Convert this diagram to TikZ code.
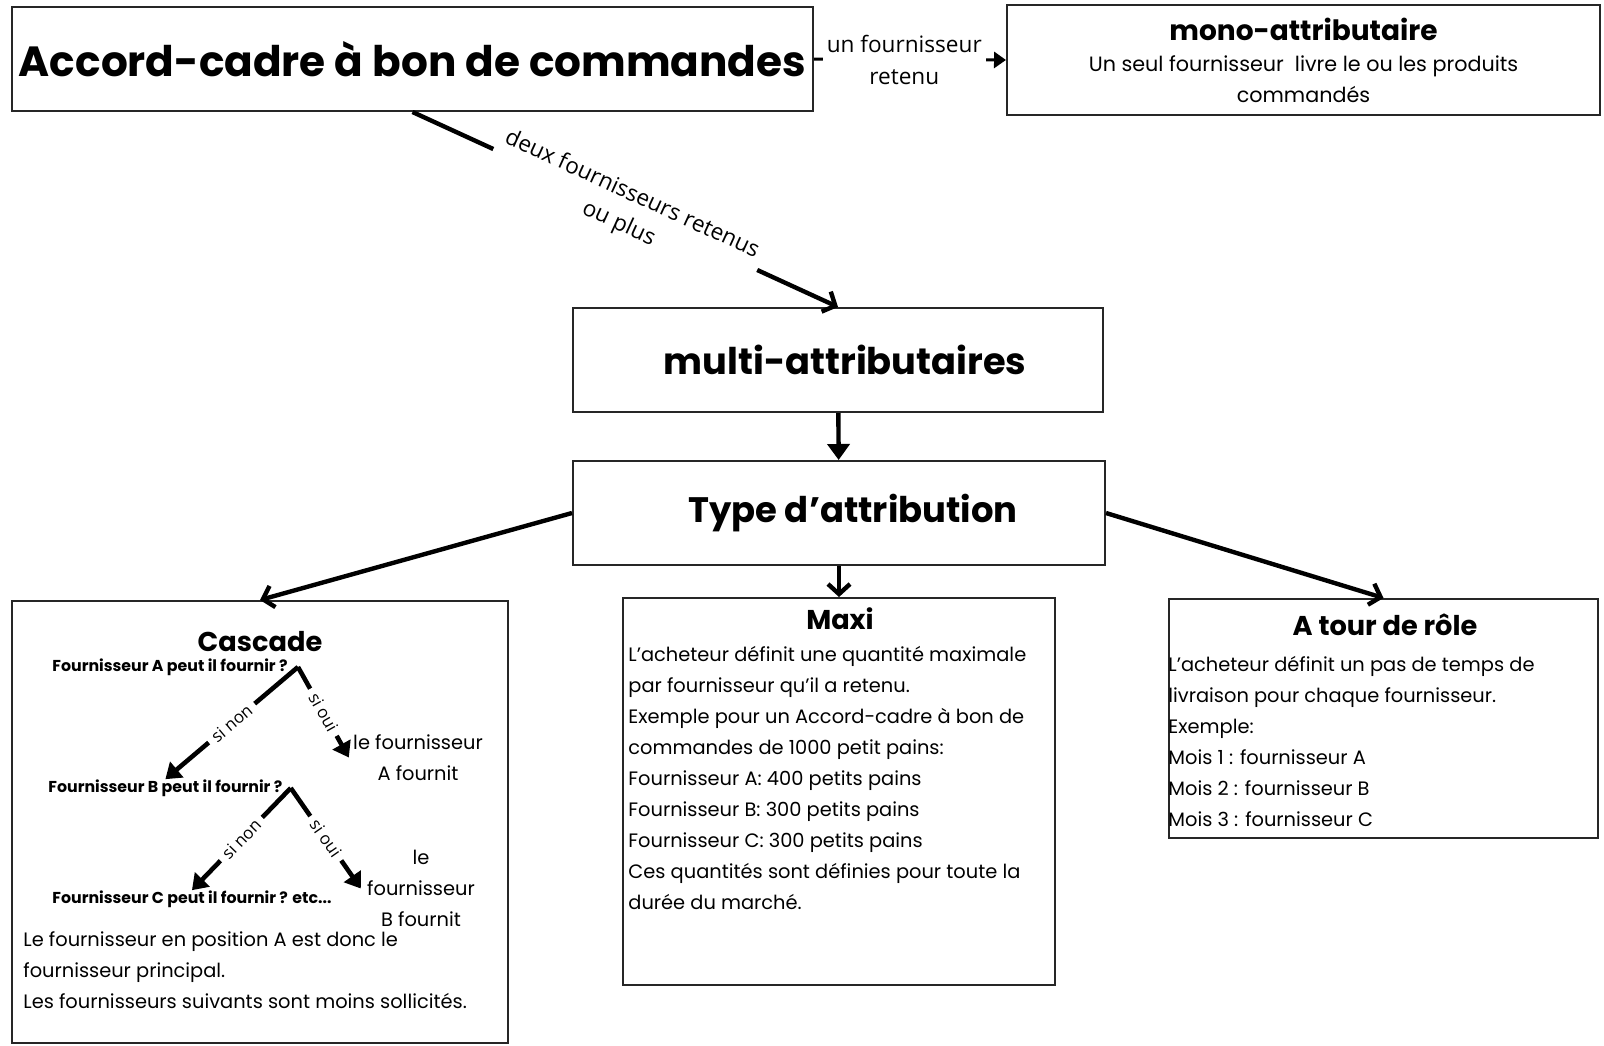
\documentclass[tikz,border=0pt]{standalone}
\usepackage{fontspec}
\setmainfont{Poppins}
\newfontfamily\labelfont{Open Sans}
\usetikzlibrary{arrows.meta}

\begin{document}
\begin{tikzpicture}[x=0.5pt,y=-0.5pt,
    box/.style={draw=black!85,line width=1pt,inner sep=0pt},
    flow/.style={line width=2.2pt,-{Straight Barb[length=5pt,width=11pt]}},
    tree/.style={line width=2.3pt,-{Triangle[length=7.5pt,width=10pt]}},
    lab/.style={font=\labelfont\fontsize{11.3}{16}\selectfont,fill=white,align=center},
    small/.style={font=\labelfont\fontsize{8.5}{10}\selectfont,fill=white,inner sep=3pt},
    quest/.style={font=\bfseries\fontsize{7.9}{9}\selectfont,inner sep=0pt,anchor=west},
    head/.style={font=\bfseries\fontsize{13.6}{16}\selectfont},
    body/.style={font=\fontsize{9.7}{15.5}\selectfont,align=left,inner sep=0pt,anchor=west}]
  \fill[white] (0,0) rectangle (1604,1045);
  \node[box,minimum width=400.5pt,minimum height=52pt,font=\bfseries\fontsize{21.1}{24}\selectfont] (accord) at (412.5,59) {Accord-cadre à bon de commandes};
  \node[box,minimum width=296.5pt,minimum height=55pt,align=center,font=\fontsize{10.35}{15.5}\selectfont] (mono) at (1303.5,60) {{\bfseries\fontsize{14}{15.5}\selectfont mono-attributaire}\\Un seul fournisseur~ livre le ou les produits\\commandés};
  \node[box,minimum width=265pt,minimum height=52pt,font=\bfseries\fontsize{18.4}{20}\selectfont] (multi) at (838,360) {\hspace{7pt}multi-attributaires};
  \node[box,minimum width=266pt,minimum height=52pt,font=\bfseries\fontsize{17.7}{20}\selectfont] (type) at (839,513) {\hspace{14pt}Type d’attribution};
  \node[box,minimum width=248pt,minimum height=221pt] (cascade) at (260,822) {};
  \node[box,minimum width=216pt,minimum height=193.5pt] (maxi) at (839,791.5) {};
  \node[box,minimum width=214.5pt,minimum height=119.5pt] (tour) at (1383.5,718.5) {};
  \node[head] (tcascade) at (260,642) {Cascade};
  \node[head] (tmaxi) at (840,619) {Maxi};
  \node[head] (ttour) at (1385,625) {A tour de rôle};
  \node[quest] (qA) at (52,667) {Fournisseur A peut il fournir ?};
  \node[quest] (qB) at (48,788) {Fournisseur B peut il fournir ?};
  \node[quest] (qC) at (52,899) {Fournisseur C peut il fournir ? etc...};
  \node[body,align=center,anchor=center] (finA) at (418,757.5) {le fournisseur\\A fournit};
  \node[body,align=center,anchor=center] (finB) at (421,888.5) {le\\fournisseur\\B fournit};
  \node[body] (ccascade) at (23,970) {Le fournisseur en position A est donc le\\fournisseur principal.\\Les fournisseurs suivants sont moins sollicités.};
  \node[body] (cmaxi) at (628,778) {L’acheteur définit une quantité maximale\\par fournisseur qu’il a retenu.\\Exemple pour un Accord-cadre à bon de\\commandes de 1000 petit pains:\\Fournisseur A: 400 petits pains\\Fournisseur B: 300 petits pains\\Fournisseur C: 300 petits pains\\Ces quantités sont définies pour toute la\\durée du marché.};
  \node[body] (ctour) at (1168,741.5) {L’acheteur définit un pas de temps de\\livraison pour chaque fournisseur.\\Exemple:\\Mois 1 : fournisseur A\\Mois 2 : fournisseur B\\Mois 3 : fournisseur C};
  \draw[line width=1.5pt,-{Triangle[length=6pt,width=8pt]}] (accord.east) -- node[lab,inner xsep=2pt,pos=0.47]{un fournisseur\\retenu} (mono.west);
  \draw[flow] (accord.south) -- node[lab,sloped]{deux fournisseurs retenus\\ou plus} (multi.north);
  \draw[line width=2.2pt,-{Triangle[length=8pt,width=11pt]}] (multi) -- (type);
  \draw[flow] (type) -- (maxi);
  \draw[flow] (type.west) -- (cascade.north);
  \draw[flow] (type.east) -- (tour.north);
  \draw[tree] ([xshift=5pt]qA.east) -- node[small,sloped]{si non} (qB.north);
  \draw[tree] ([xshift=5pt]qA.east) -- node[small,sloped]{si oui} ([xshift=-2pt]finA.west);
  \draw[tree] ([xshift=4pt]qB.east) -- node[small,sloped]{si non} (qC.north);
  \draw[tree] ([xshift=4pt]qB.east) -- node[small,sloped]{si oui} ([xshift=-3pt]finB.west);
\end{tikzpicture}
\end{document}
